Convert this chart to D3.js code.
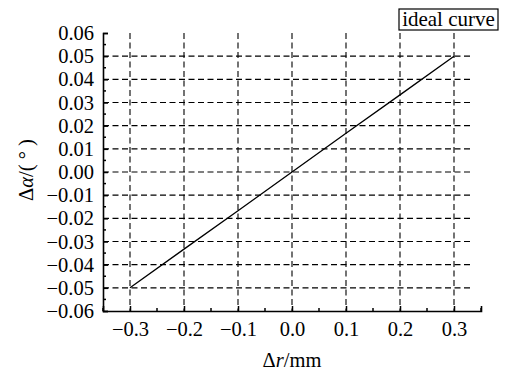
<!DOCTYPE html>
<html>
<head>
<meta charset="utf-8">
<script src="https://cdn.jsdelivr.net/npm/d3@7"></script>
<style>
  body { margin: 0; background: #fff; }
  svg text { font-family: "Liberation Serif", "Times New Roman", serif; fill: #000; }
</style>
</head>
<body>
<div id="chart"></div>
<script>
// data
const deltaR = [-0.3, -0.2, -0.1, 0.0, 0.1, 0.2, 0.3];
const deltaAlpha = [-0.05, -0.0333, -0.0167, 0.0, 0.0167, 0.0333, 0.05];
const xTicks = [-0.3, -0.2, -0.1, 0.0, 0.1, 0.2, 0.3];
const yTicks = [-0.06, -0.05, -0.04, -0.03, -0.02, -0.01, 0.00, 0.01, 0.02, 0.03, 0.04, 0.05, 0.06];
const legendLabel = "ideal curve";

const width = 509, height = 371;
const margin = {top: 33, right: 28, bottom: 60, left: 103};
const innerW = width - margin.left - margin.right;
const innerH = height - margin.top - margin.bottom;
const fontSize = "20.5px";

const svg = d3.select("#chart").append("svg")
    .attr("width", width)
    .attr("height", height);

const g = svg.append("g")
    .attr("transform", "translate(" + margin.left + "," + margin.top + ")");

const x = d3.scaleLinear().domain([-0.35, 0.35]).range([0, innerW]);
const y = d3.scaleLinear().domain([-0.06, 0.06]).range([innerH, 0]);

const fmtNum = (d, n) => (d < 0 ? "\u2212" : "") + Math.abs(d).toFixed(n);

// grid lines
g.append("g").selectAll("line")
    .data(yTicks.filter(d => d > -0.06 && d < 0.06))
    .enter().append("line")
    .attr("x1", 0).attr("x2", x(0.335))
    .attr("y1", d => y(d)).attr("y2", d => y(d))
    .attr("stroke", "#000").attr("stroke-width", 1.1)
    .attr("stroke-dasharray", "6,3.5");

g.append("g").selectAll("line")
    .data(xTicks)
    .enter().append("line")
    .attr("x1", d => x(d)).attr("x2", d => x(d))
    .attr("y1", 0).attr("y2", innerH)
    .attr("stroke", "#000").attr("stroke-width", 1.1)
    .attr("stroke-dasharray", "6,3.5");

// axes
const xAxis = g.append("g")
    .attr("transform", "translate(0," + innerH + ")")
    .call(d3.axisBottom(x).tickValues(xTicks).tickSize(-5).tickPadding(10).tickFormat(d => fmtNum(d, 1)));
xAxis.append("g").selectAll("line")
    .data(d3.range(-0.35, 0.351, 0.1).map(v => +v.toFixed(2)))
    .enter().append("line")
    .attr("x1", d => x(d)).attr("x2", d => x(d))
    .attr("y1", 0).attr("y2", -3)
    .attr("stroke", "#000").attr("stroke-width", 1.5);

const yAxis = g.append("g")
    .call(d3.axisLeft(y).tickValues(yTicks).tickSize(-5).tickPadding(9).tickFormat(d => fmtNum(d, 2)));
yAxis.append("g").selectAll("line")
    .data(d3.range(-0.055, 0.06, 0.01).map(v => +v.toFixed(3)))
    .enter().append("line")
    .attr("x1", 0).attr("x2", 3)
    .attr("y1", d => y(d)).attr("y2", d => y(d))
    .attr("stroke", "#000").attr("stroke-width", 1.5);

[xAxis, yAxis].forEach(a => {
    a.attr("font-family", "Liberation Serif, serif").attr("font-size", 20.5);
    a.select(".domain").attr("stroke-width", 1.6);
    a.selectAll(".tick line").attr("stroke-width", 1.5);
    a.selectAll("text").style("font-size", fontSize);
});

// the curve
const pts = deltaR.map((r, i) => [r, deltaAlpha[i]]);
g.append("path")
    .datum(pts)
    .attr("fill", "none")
    .attr("stroke", "#000")
    .attr("stroke-width", 1.3)
    .attr("d", d3.line().x(d => x(d[0])).y(d => y(d[1])));

// axis titles
const xt = svg.append("text")
    .attr("x", margin.left + x(0))
    .attr("y", 367)
    .attr("text-anchor", "middle")
    .style("font-size", fontSize);
xt.append("tspan").text("\u0394");
xt.append("tspan").style("font-style", "italic").text("r");
xt.append("tspan").text("/mm");

const yt = svg.append("text")
    .attr("transform", "translate(33,170) rotate(-90)")
    .attr("text-anchor", "middle")
    .style("font-size", fontSize);
yt.append("tspan").text("\u0394");
yt.append("tspan").style("font-style", "italic").text("\u03b1");
yt.append("tspan").text("/( \u00b0 )");

// legend box
const lg = svg.append("g").attr("transform", "translate(399,9)");
lg.append("rect")
    .attr("width", 99).attr("height", 21)
    .attr("fill", "#fff").attr("stroke", "#000").attr("stroke-width", 1.2);
lg.append("text")
    .attr("x", 49.5).attr("y", 16.5)
    .attr("text-anchor", "middle")
    .style("font-size", "21px")
    .text(legendLabel);
</script>
</body>
</html>
